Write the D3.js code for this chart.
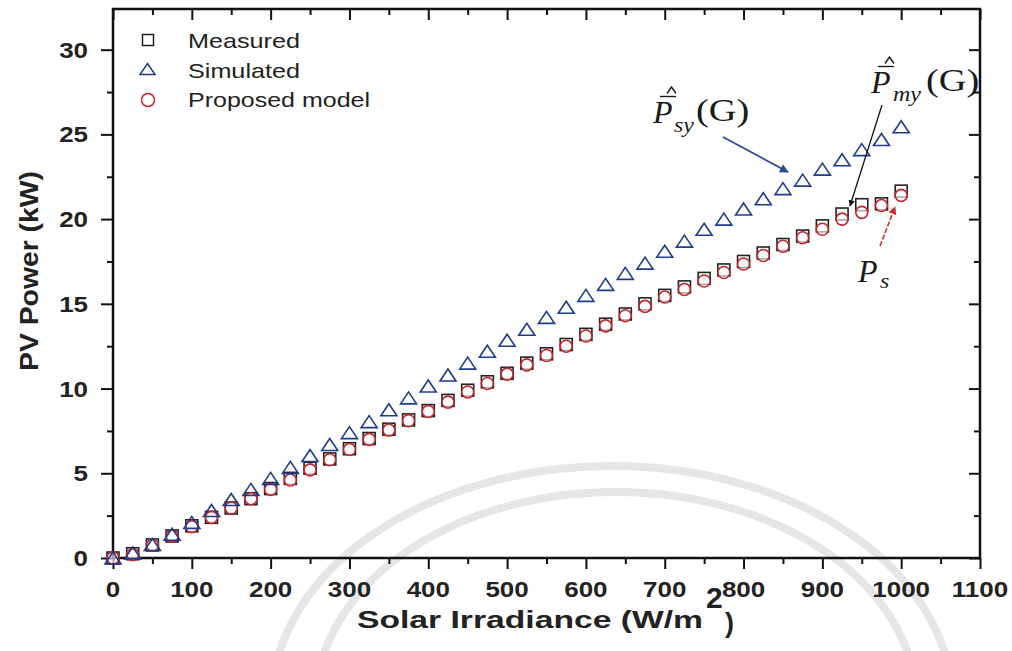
<!DOCTYPE html>
<html>
<head>
<meta charset="utf-8">
<script src="https://cdn.jsdelivr.net/npm/d3@7"></script>
<style>
  body { margin: 0; background: #fff; }
  svg { display: block; }
</style>
</head>
<body>
<div class="viz"></div>
<script>
'use strict'

const width = 1012,
  height = 651;
const plot = {left: 113, right: 980, top: 9, bottom: 558};

// data (irradiance in W/m2, power in kW)
const irradiance = [0, 25, 50, 75, 100, 125, 150, 175, 200, 225, 250, 275, 300,
  325, 350, 375, 400, 425, 450, 475, 500, 525, 550, 575, 600, 625, 650, 675,
  700, 725, 750, 775, 800, 825, 850, 875, 900, 925, 950, 975, 1000];
const measured = [0, 0.25, 0.77, 1.3, 1.9, 2.4, 2.95, 3.5, 4.1, 4.7, 5.3, 5.85,
  6.45, 7.05, 7.6, 8.15, 8.7, 9.3, 9.9, 10.4, 10.9, 11.5, 12.05, 12.6, 13.2,
  13.8, 14.4, 15.0, 15.5, 16.0, 16.5, 17.0, 17.5, 18.0, 18.5, 19.0, 19.6, 20.3,
  20.85, 20.9, 21.65];
const simulated = [0, 0.3, 0.8, 1.4, 2.1, 2.8, 3.45, 4.05, 4.7, 5.35, 6.05, 6.7,
  7.4, 8.05, 8.75, 9.45, 10.15, 10.8, 11.5, 12.2, 12.85, 13.5, 14.2, 14.8, 15.5,
  16.15, 16.8, 17.4, 18.1, 18.7, 19.4, 20.0, 20.6, 21.2, 21.8, 22.3, 22.95, 23.5,
  24.1, 24.7, 25.45];
const proposed = [0, 0.2, 0.75, 1.3, 1.85, 2.4, 2.95, 3.5, 4.05, 4.6, 5.2, 5.8,
  6.4, 7.0, 7.55, 8.1, 8.65, 9.2, 9.8, 10.3, 10.85, 11.4, 11.95, 12.5, 13.1,
  13.7, 14.3, 14.85, 15.4, 15.85, 16.35, 16.85, 17.35, 17.85, 18.4, 18.9, 19.4,
  20.0, 20.4, 20.8, 21.4];

const x_ticks = [0, 100, 200, 300, 400, 500, 600, 700, 800, 900, 1000, 1100];
const x_minor = [50, 150, 250, 350, 450, 550, 650, 750, 850, 950, 1050];
const y_ticks = [0, 5, 10, 15, 20, 25, 30];
const y_minor = [2.5, 7.5, 12.5, 17.5, 22.5, 27.5];

const legend_labels = ['Measured', 'Simulated', 'Proposed model'];

const col_meas = '#222222',
  col_sim = '#1f3c8c',
  col_prop = '#c4262e';
const font_sans = '"Liberation Sans", Arial, sans-serif',
  font_serif = '"Liberation Serif", "Times New Roman", serif';

let x = d3.scaleLinear().domain([0, 1100]).range([plot.left, plot.right]);
let y = d3.scaleLinear().domain([0, 32.4]).range([plot.bottom, plot.top]);

let svg = d3.select('.viz')
  .append('svg')
  .attr('width', width)
  .attr('height', height);

let defs = svg.append('defs');
function arrow_marker(id, color) {
  defs.append('marker')
    .attr('id', id)
    .attr('viewBox', '0 -5 10 10')
    .attr('refX', 9)
    .attr('refY', 0)
    .attr('markerWidth', 5)
    .attr('markerHeight', 5)
    .attr('markerUnits', 'strokeWidth')
    .attr('orient', 'auto')
    .append('path')
    .attr('d', 'M0,-5L10,0L0,5Z')
    .attr('fill', color);
}
arrow_marker('head_blue', '#2c4a9c');
arrow_marker('head_black', '#111');
arrow_marker('head_red', '#d42a2a');

// faint watermark behind the plot (two arcs of a seal)
let mark = svg.append('g')
  .attr('fill', 'none')
  .attr('stroke', '#e6e6e6')
  .attr('stroke-width', 8);
mark.append('ellipse')
  .attr('cx', 612).attr('cy', 702).attr('rx', 340).attr('ry', 236);
mark.append('ellipse')
  .attr('cx', 616).attr('cy', 702).attr('rx', 300).attr('ry', 210);

// symbols
const tri_path = 'M0,-6L8,6L-8,6Z';
const tri_small = 'M0,-5.5L7.5,5.5L-7.5,5.5Z';

// axes
function style_axis(g) {
  g.select('.domain').remove();
  g.selectAll('.tick line')
    .attr('stroke', '#111')
    .attr('stroke-width', 2);
}

svg.append('g')
  .attr('transform', `translate(0,${plot.bottom})`)
  .call(d3.axisBottom(x).tickValues(x_ticks).tickSize(11).tickFormat(''))
  .call(style_axis);
svg.append('g')
  .attr('transform', `translate(0,${plot.bottom})`)
  .call(d3.axisBottom(x).tickValues(x_minor).tickSize(6).tickFormat(''))
  .call(style_axis);
svg.append('g')
  .attr('transform', `translate(0,${plot.top})`)
  .call(d3.axisTop(x).tickValues(x_ticks).tickSize(-11).tickFormat(''))
  .call(style_axis);
svg.append('g')
  .attr('transform', `translate(0,${plot.top})`)
  .call(d3.axisTop(x).tickValues(x_minor).tickSize(-6).tickFormat(''))
  .call(style_axis);
svg.append('g')
  .attr('transform', `translate(${plot.left},0)`)
  .call(d3.axisLeft(y).tickValues(y_ticks).tickSize(12).tickFormat(''))
  .call(style_axis);
svg.append('g')
  .attr('transform', `translate(${plot.left},0)`)
  .call(d3.axisLeft(y).tickValues(y_minor).tickSize(6).tickFormat(''))
  .call(style_axis);
svg.append('g')
  .attr('transform', `translate(${plot.right},0)`)
  .call(d3.axisRight(y).tickValues(y_ticks).tickSize(-11).tickFormat(''))
  .call(style_axis);
svg.append('g')
  .attr('transform', `translate(${plot.right},0)`)
  .call(d3.axisRight(y).tickValues(y_minor).tickSize(-6).tickFormat(''))
  .call(style_axis);

svg.append('rect')
  .attr('x', plot.left)
  .attr('y', plot.top)
  .attr('width', plot.right - plot.left)
  .attr('height', plot.bottom - plot.top)
  .attr('fill', 'none')
  .attr('stroke', '#111')
  .attr('stroke-width', 2.5);

// tick labels (the figure's text is a bit wide, so stretch it)
svg.append('g')
  .selectAll('text')
  .data(x_ticks)
  .join('text')
  .attr('transform', d => `translate(${x(d)},597) scale(1.18,1)`)
  .attr('text-anchor', 'middle')
  .style('font', `bold 22px ${font_sans}`)
  .attr('fill', '#222')
  .text(d => d);
svg.append('g')
  .selectAll('text')
  .data(y_ticks)
  .join('text')
  .attr('transform', d => `translate(88,${y(d) + 8}) scale(1.18,1)`)
  .attr('text-anchor', 'end')
  .style('font', `bold 22px ${font_sans}`)
  .attr('fill', '#222')
  .text(d => d);

// axis titles
let x_title = svg.append('g').style('font', `bold 23px ${font_sans}`).attr('fill', '#222');
x_title.append('text')
  .attr('x', 357)
  .attr('y', 628)
  .attr('textLength', 346)
  .attr('lengthAdjust', 'spacingAndGlyphs')
  .text('Solar Irradiance (W/m');
x_title.append('text')
  .attr('x', 706)
  .attr('y', 608)
  .style('font-size', '30px')
  .text('2');
x_title.append('text')
  .attr('x', 725)
  .attr('y', 632)
  .style('font-size', '27px')
  .text(')');

svg.append('text')
  .attr('transform', 'translate(38,271) rotate(-90)')
  .attr('text-anchor', 'middle')
  .attr('textLength', 200)
  .attr('lengthAdjust', 'spacingAndGlyphs')
  .style('font', `bold 25px ${font_sans}`)
  .attr('fill', '#222')
  .text('PV Power (kW)');

// data points
let pts = irradiance.map((g, i) => ({g: g, m: measured[i], s: simulated[i], p: proposed[i]}));

svg.append('g')
  .attr('fill', 'none')
  .attr('stroke', col_meas)
  .attr('stroke-width', 1.6)
  .selectAll('rect')
  .data(pts)
  .join('rect')
  .attr('x', d => x(d.g) - 6)
  .attr('y', d => y(d.m) - 6)
  .attr('width', 12)
  .attr('height', 12);

svg.append('g')
  .attr('fill', '#fff')
  .attr('fill-opacity', 0.6)
  .attr('stroke', col_prop)
  .attr('stroke-width', 1.6)
  .selectAll('circle')
  .data(pts)
  .join('circle')
  .attr('cx', d => x(d.g))
  .attr('cy', d => y(d.p))
  .attr('r', 6);

svg.append('g')
  .attr('fill', 'none')
  .attr('stroke', col_sim)
  .attr('stroke-width', 1.6)
  .selectAll('path')
  .data(pts)
  .join('path')
  .attr('transform', d => `translate(${x(d.g)},${y(d.s)})`)
  .attr('d', tri_path);

// legend
let legend = svg.append('g');
let leg_rows = [
  {label: legend_labels[0], y: 48, len: 112},
  {label: legend_labels[1], y: 78, len: 112},
  {label: legend_labels[2], y: 107, len: 182}
];
legend.append('rect')
  .attr('x', 142.5).attr('y', 34.5).attr('width', 11).attr('height', 11)
  .attr('fill', 'none').attr('stroke', col_meas).attr('stroke-width', 1.5);
legend.append('path')
  .attr('transform', 'translate(147.5,69)')
  .attr('d', tri_small)
  .attr('fill', 'none').attr('stroke', col_sim).attr('stroke-width', 1.5);
legend.append('circle')
  .attr('cx', 148).attr('cy', 100).attr('r', 6.5)
  .attr('fill', 'none').attr('stroke', col_prop).attr('stroke-width', 1.5);
legend.selectAll('text')
  .data(leg_rows)
  .join('text')
  .attr('x', 188)
  .attr('y', d => d.y)
  .attr('textLength', d => d.len)
  .attr('lengthAdjust', 'spacingAndGlyphs')
  .style('font', `21px ${font_sans}`)
  .attr('fill', '#222')
  .text(d => d.label);

// annotations: P with hat and bar, subscript, (G)
function annotate(ax, ay, sub, sub_dy, with_g, g_dx) {
  let a = svg.append('g')
    .attr('transform', `translate(${ax},${ay})`)
    .attr('fill', '#1a1a1a')
    .style('font-family', font_serif);
  a.append('text')
    .style('font-size', '32px')
    .style('font-style', 'italic')
    .text('P');
  a.append('text')
    .attr('transform', `translate(${sub.dx},${sub_dy}) scale(1.2,1)`)
    .style('font-size', '20px')
    .style('font-style', 'italic')
    .text(sub.text);
  if (with_g) {
    a.append('path')
      .attr('d', 'M7,-26.5L23,-26.5')
      .attr('stroke', '#1a1a1a')
      .attr('stroke-width', 1.4);
    a.append('path')
      .attr('d', 'M14,-29.5L18.5,-36L23,-29.5')
      .attr('fill', 'none')
      .attr('stroke', '#1a1a1a')
      .attr('stroke-width', 1.4);
    a.append('text')
      .attr('transform', `translate(${g_dx},-2) scale(1.2,1)`)
      .style('font-size', '32px')
      .text('(G)');
  }
}
annotate(653, 123, {text: 'sy', dx: 21}, 9, true, 43);
annotate(871, 93, {text: 'my', dx: 22}, 8, true, 55);
annotate(858, 282, {text: 's', dx: 22}, 6, false, 0);

// arrows
svg.append('line')
  .attr('x1', 723).attr('y1', 137).attr('x2', 788).attr('y2', 172)
  .attr('stroke', '#2c4a9c').attr('stroke-width', 1.8)
  .attr('marker-end', 'url(#head_blue)');
svg.append('line')
  .attr('x1', 882).attr('y1', 105).attr('x2', 850).attr('y2', 206)
  .attr('stroke', '#111').attr('stroke-width', 1.3)
  .attr('marker-end', 'url(#head_black)');
svg.append('line')
  .attr('x1', 880).attr('y1', 246).attr('x2', 895).attr('y2', 207)
  .attr('stroke', '#d42a2a').attr('stroke-width', 1.6)
  .attr('stroke-dasharray', '5,2')
  .attr('marker-end', 'url(#head_red)');
</script>
</body>
</html>
